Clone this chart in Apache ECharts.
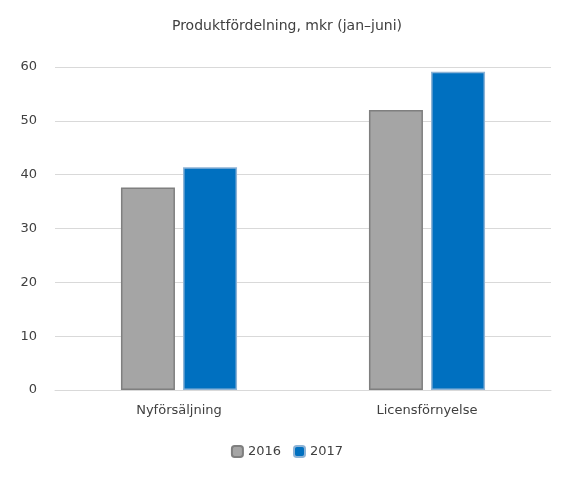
<!DOCTYPE html><html><head><meta charset="utf-8"><script src="https://cdn.jsdelivr.net/npm/echarts@6/dist/echarts.min.js"></script></head><body style="margin:0;background:#fff"><div id="c" style="width:574px;height:485px"></div><script>
const categories=['Nyförsäljning','Licensförnyelse'];
const s2016=[37.6,52.0];
const s2017=[41.4,59.1];
const yTicks={min:0,max:60,interval:10};
const ch=echarts.init(document.getElementById('c'));
ch.setOption({
 title:{text:'Produktfördelning, mkr (jan–juni)',left:'center',top:14,textStyle:{fontFamily:'DejaVu Sans',fontSize:14,fontWeight:'normal',color:'#404040'}},
 legend:{bottom:22,itemWidth:11,itemHeight:11,itemGap:12,textStyle:{fontFamily:'DejaVu Sans',fontSize:13,color:'#404040'}},
 grid:{left:55,right:23,top:67,bottom:95},
 xAxis:{type:'category',data:categories,axisTick:{show:false},axisLine:{lineStyle:{color:'#d9d9d9'}},axisLabel:{fontFamily:'DejaVu Sans',fontSize:13,color:'#404040',margin:14}},
 yAxis:{type:'value',...yTicks,axisLabel:{fontFamily:'DejaVu Sans',fontSize:13,color:'#404040',margin:18},splitLine:{lineStyle:{color:'#d9d9d9'}}},
 series:[
  {name:'2016',type:'bar',data:s2016,barWidth:54,barGap:'15%',itemStyle:{color:'#a5a5a5',borderColor:'#7f7f7f',borderWidth:1.5}},
  {name:'2017',type:'bar',data:s2017,barWidth:54,itemStyle:{color:'#0070c0',borderColor:'#8db3d6',borderWidth:1.5}}
 ]
});
</script></body></html>
